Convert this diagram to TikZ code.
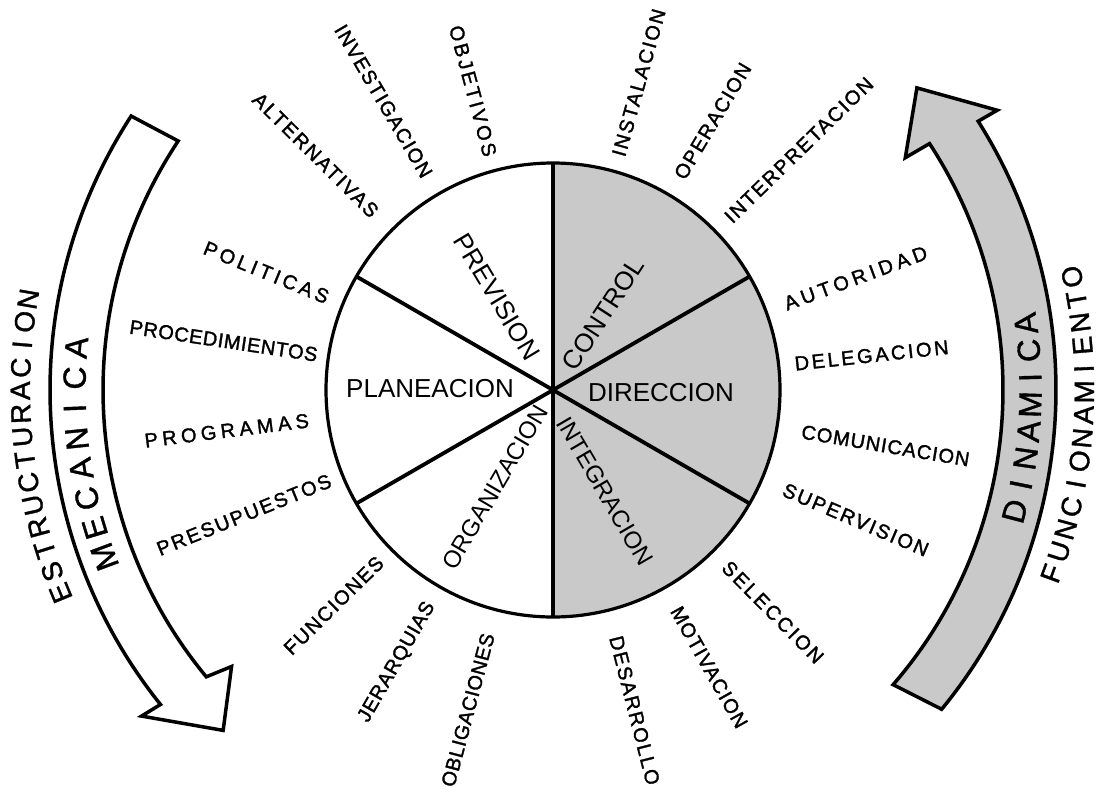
\documentclass[tikz,border=0pt]{standalone}
\usepackage{fontspec}
\setmainfont{Liberation Sans}
\newfontfamily\labfont[FakeBold=1.6]{Liberation Sans}
\newfontfamily\arcfont[FakeBold=1.2]{Liberation Sans}
\definecolor{dotgray}{gray}{0.79}
\begin{document}
\begin{tikzpicture}[x=1pt,y=1pt,
  outer/.style={font=\labfont\fontsize{20}{22}\selectfont\addfontfeatures{LetterSpace=#1}, inner sep=0pt},
  inL/.style 2 args={outer=#2, anchor=east, rotate=#1-180},
  outR/.style 2 args={outer=#2, anchor=west, rotate=#1},
  sector/.style={font=\fontsize{26}{28}\selectfont, inner sep=0pt},
  bandL/.style={font=\arcfont\fontsize{32}{34}\selectfont, inner sep=0pt, anchor=base, rotate=#1-90},
  bandR/.style={font=\arcfont\fontsize{32}{34}\selectfont, inner sep=0pt, anchor=base, rotate=#1+90},
  farL/.style={font=\arcfont\fontsize{28}{30}\selectfont, inner sep=0pt, anchor=base, rotate=#1-90},
  farR/.style={font=\arcfont\fontsize{28}{30}\selectfont, inner sep=0pt, anchor=base, rotate=#1+90},
  arrowline/.style={line width=3.5pt, line join=miter},
  rim/.style={line width=3.2pt},
  divider/.style={line width=3.8pt},
]
\fill[white] (0,0) rectangle (1099,-795);
\useasboundingbox (0,0) rectangle (1099,-795);

\begin{scope}[shift={(553,-390)}]
  % circle
  \fill[dotgray] (0,0) -- (-90:227) arc[start angle=-90, end angle=90, radius=227] -- cycle;
  \draw[divider] (90:227) -- (-90:227);
  \draw[divider] (150:227) -- (-30:227);
  \draw[divider] (30:227) -- (210:227);
  \draw[rim] (0,0) circle[radius=227];

  % left arrow (white)
  \draw[arrowline, fill=white] (147:503) arc[start angle=147, end angle=218.7, radius=503]
     -- (218.4:525) -- (225.9:474) -- (220.7:424) -- (219.6:450)
     arc[start angle=219.6, end angle=146.4, radius=450] -- cycle;
  % right arrow (shaded)
  \draw[arrowline, fill=dotgray] (-39.4:503) arc[start angle=-39.4, end angle=32.3, radius=503]
     -- (32.2:525) -- (39.7:473) -- (33.4:422) -- (33.2:450)
     arc[start angle=33.2, end angle=-40.9, radius=450] -- cycle;

  % band texts
  \foreach \ch [count=\i] in {M,E,C,A,N,I,C,A} {
    \pgfmathsetmacro\ang{200.4-(\i-1)*3.64}
    \node[bandL=\ang] (mec\i) at (\ang:467.5) {\ch};
  }
  \foreach \ch [count=\i] in {E,S,T,R,U,C,T,U,R,A,C,I,O,N} {
    \pgfmathsetmacro\ang{202.4-(\i-1)*2.48}
    \node[farL=\ang] (est\i) at (\ang:523) {\ch};
  }
  \foreach \ch [count=\i] in {D,I,N,A,M,I,C,A} {
    \pgfmathsetmacro\ang{-14.7+(\i-1)*3.24}
    \node[bandR=\ang] (din\i) at (\ang:488.5) {\ch};
  }
  \foreach \ch [count=\i] in {F,U,N,C,I,O,N,A,M,I,E,N,T,O} {
    \pgfmathsetmacro\ang{-20.2+(\i-1)*2.5}
    \node[farR=\ang] (fun\i) at (\ang:541) {\ch};
  }

  % outer labels, left half (reading towards the circle)
  \node[inL={105}{14}]   (obj)  at (105:242)   {OBJETIVOS};
  \node[inL={120.4}{7}]  (inv)  at (120.4:248) {INVESTIGACION};
  \node[inL={135.3}{10}] (alt)  at (135.3:250) {ALTERNATIVAS};
  \node[inL={157.7}{18}] (pol)  at (157.7:243) {POLITICAS};
  \node[inL={171.5}{3}]  (proc) at (171.5:238) {PROCEDIMIENTOS};
  \node[inL={187.1}{22}] (prog) at (187.1:246) {PROGRAMAS};
  \node[inL={202}{10}]   (pres) at (202:240)   {PRESUPUESTOS};
  \node[inL={224.5}{8}]  (func) at (224.5:242) {FUNCIONES};
  \node[inL={240.2}{4}]  (jer)  at (240.2:246) {JERARQUIAS};
  \node[inL={255.1}{3}]  (obl)  at (255.1:252) {OBLIGACIONES};
  % outer labels, right half (reading away from the circle)
  \node[outR={-75.7}{9}]  (des)  at (-75.7:254) {DESARROLLO};
  \node[outR={-60.6}{6}]  (mot)  at (-60.6:250) {MOTIVACION};
  \node[outR={-45.3}{12}] (sel)  at (-45.3:245) {SELECCION};
  \node[outR={-23.2}{10}] (sup)  at (-23.2:251) {SUPERVISION};
  \node[outR={-9.5}{5}]   (com)  at (-9.5:252)  {COMUNICACION};
  \node[outR={6.2}{13}]   (del)  at (6.2:243)   {DELEGACION};
  \node[outR={20.3}{21}]  (aut)  at (20.3:247)  {AUTORIDAD};
  \node[outR={44.3}{9}]   (intp) at (44.3:244)  {INTERPRETACION};
  \node[outR={59.3}{7}]   (ope)  at (59.3:247)  {OPERACION};
  \node[outR={74.4}{10}]  (ins)  at (74.4:243)  {INSTALACION};
\end{scope}

% sector labels
\node[sector, rotate=-59] (prev) at (497,-297) {PREVISION};
\node[sector, rotate=57]  (ctrl) at (603,-314) {CONTROL};
\node[sector]             (plan) at (430,-389) {PLANEACION};
\node[sector]             (dir)  at (661,-393) {DIRECCION};
\node[sector, rotate=59.6, font=\fontsize{24}{26}\selectfont] (org) at (495,-487) {ORGANIZACION};
\node[sector, rotate=-59.7, font=\fontsize{24}{26}\selectfont] (integ) at (605,-491) {INTEGRACION};
\end{tikzpicture}
\end{document}
